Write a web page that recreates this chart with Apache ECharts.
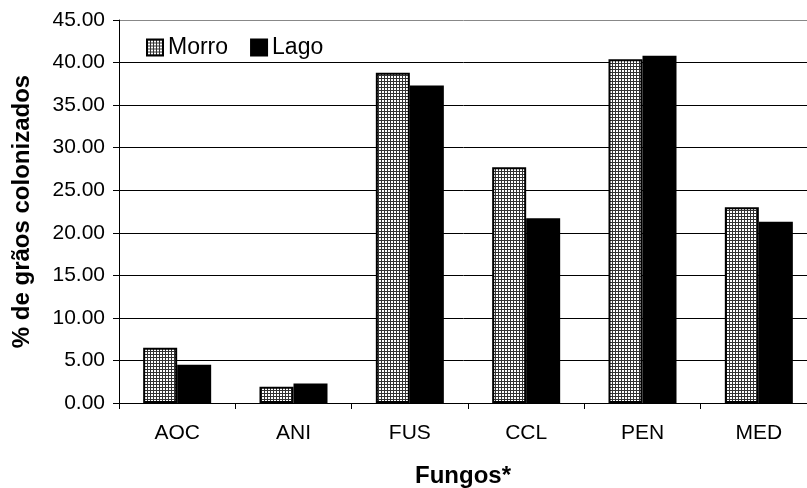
<!DOCTYPE html>
<html>
<head>
<meta charset="utf-8">
<script src="https://cdn.jsdelivr.net/npm/echarts@6/dist/echarts.min.js"></script>
<style>
html,body{margin:0;padding:0;background:#fff;}
#c{width:807px;height:488px;}
</style>
</head>
<body>
<div id="c"></div>
<script>
var categories = ['AOC', 'ANI', 'FUS', 'CCL', 'PEN', 'MED'];
var morro = [6.5, 1.9, 38.8, 27.7, 40.4, 23.0];
var lago = [4.5, 2.3, 37.3, 21.7, 40.8, 21.3];
var yTicks = [0, 5, 10, 15, 20, 25, 30, 35, 40, 45];

var tile = document.createElement('canvas');
tile.width = 3; tile.height = 3;
var tc = tile.getContext('2d');
tc.fillStyle = '#ffffff'; tc.fillRect(0, 0, 3, 3);
tc.fillStyle = '#333333';
tc.fillRect(0, 0, 3, 1);
tc.fillRect(0, 0, 1, 3);

var font = 'Liberation Sans, Arial, sans-serif';
var chart = echarts.init(document.getElementById('c'), null, {renderer: 'canvas'});
chart.setOption({
  animation: false,
  backgroundColor: '#fff',
  grid: {left: 119, top: 20, bottom: 85, width: 698, containLabel: false, outerBoundsMode: 'none'},
  legend: {
    left: 141, top: 31, itemWidth: 16, itemHeight: 16, itemGap: 22,
    icon: 'rect',
    textStyle: {fontFamily: font, fontSize: 23, color: '#000'},
    data: ['Morro', 'Lago']
  },
  xAxis: {
    type: 'category', data: categories,
    name: 'Fungos*', nameLocation: 'middle', nameGap: 61,
    nameTextStyle: {fontFamily: font, fontSize: 24, fontWeight: 'bold', color: '#000', padding: [0, 10, 0, 0]},
    axisLine: {lineStyle: {color: '#000', width: 1}},
    axisTick: {show: true, length: 6, lineStyle: {color: '#000'}},
    axisLabel: {fontFamily: font, fontSize: 21, color: '#000', margin: 20}
  },
  yAxis: {
    type: 'value', min: 0, max: 45, interval: 5,
    name: '% de grãos colonizados', nameLocation: 'middle', nameGap: 85, nameRotate: 90,
    nameTextStyle: {fontFamily: font, fontSize: 24, fontWeight: 'bold', color: '#000'},
    axisLine: {show: true, lineStyle: {color: '#000', width: 1}},
    axisTick: {show: true, length: 6, lineStyle: {color: '#000'}},
    axisLabel: {fontFamily: font, fontSize: 21, color: '#000', margin: 14,
      formatter: function (v) { return v.toFixed(2); }},
    splitLine: {show: true, lineStyle: {color: ['#000','#000','#000','#000','#000','#000','#000','#000','#000','#888'], width: 1}}
  },
  series: [
    {name: 'Morro', type: 'bar', data: morro, barWidth: 34, barGap: '0%',
      itemStyle: {color: {image: tile, repeat: 'repeat'}, borderColor: '#000', borderWidth: 2}},
    {name: 'Lago', type: 'bar', data: lago, barWidth: 34, barGap: '0%',
      itemStyle: {color: '#000', borderColor: '#000', borderWidth: 1.5}}
  ]
});
</script>
</body>
</html>
